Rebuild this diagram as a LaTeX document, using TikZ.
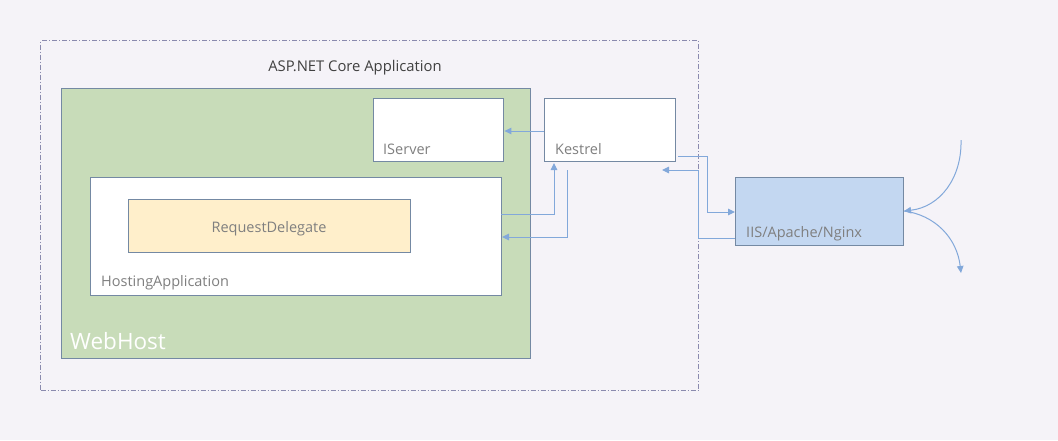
\documentclass[tikz,border=0pt]{standalone}
\usepackage{fontspec}
\setmainfont{Open Sans}
\usetikzlibrary{arrows.meta}
\definecolor{bgc}{HTML}{F5F3F8}
\definecolor{outerc}{HTML}{8A8AAE}
\definecolor{boxc}{HTML}{7489A3}
\definecolor{greenc}{HTML}{C8DCB9}
\definecolor{yellowc}{HTML}{FFEFCB}
\definecolor{bluec}{HTML}{C3D7F1}
\definecolor{linkc}{HTML}{82A8DA}
\definecolor{lblc}{HTML}{7F7F7F}
\definecolor{titlec}{HTML}{404040}
\tikzset{
  box/.style={draw=boxc, line width=1.4pt, inner sep=0pt, anchor=north west},
  lbl/.style={text=lblc, font=\fontsize{14.5}{16}\selectfont, anchor=base west, inner sep=0pt},
  link/.style={draw=linkc, line width=1pt, -{Triangle[length=7pt,width=6.5pt]}},
}
\begin{document}
\begin{tikzpicture}[x=1pt,y=-1pt]
\fill[bgc] (0,0) rectangle (1058,440);
\useasboundingbox (0,0) rectangle (1058,440);
% outer
\node[draw=outerc, line width=1pt, dash pattern=on 5pt off 2pt on 1pt off 2pt, minimum width=658pt, minimum height=350pt, inner sep=0pt, anchor=north west] (app) at (40,40) {};
\node[text=titlec, font=\fontsize{14.8}{16}\selectfont, inner sep=0pt, anchor=base] (apptitle) at (355,71) {ASP.NET Core Application};
% webhost
\node[box, fill=greenc, minimum width=469pt, minimum height=270pt] (webhost) at (61,88) {};
\node[text=white, font=\fontsize{22.5}{24}\selectfont, anchor=base west, inner sep=0pt] (whl) at (70,349) {WebHost};
% iserver
\node[box, fill=white, minimum width=130pt, minimum height=63pt] (iserver) at (373,98) {};
\node[lbl] (isl) at (383,154) {IServer};
% hosting app
\node[box, fill=white, minimum width=411pt, minimum height=118pt] (hosting) at (90,177) {};
\node[lbl] (hal) at (101,286) {HostingApplication};
% request delegate
\node[box, fill=yellowc, minimum width=282pt, minimum height=53pt] (rd) at (128,199) {};
\node[text=lblc, font=\fontsize{14.5}{16}\selectfont, inner sep=0pt, anchor=base] (rdl) at (269,232) {RequestDelegate};
% kestrel
\node[box, fill=white, minimum width=131pt, minimum height=63pt] (kestrel) at (544,98) {};
\node[lbl] (kl) at (555,154) {Kestrel};
% iis
\node[box, fill=bluec, minimum width=168pt, minimum height=68pt] (iis) at (735,177) {};
\node[lbl] (iisl) at (746,237) {IIS/Apache/Nginx};
% coordinates
\coordinate (k1) at (678,156);
\coordinate (k2) at (662,170);
\coordinate (kb1) at (554,163);
\coordinate (kb2) at (567,170);
\coordinate (h1) at (501,214);
\coordinate (h2) at (502,237);
\coordinate (i1) at (735,212);
\coordinate (i2) at (735,238);
\coordinate (cin) at (961,140);
\coordinate (cout) at (961,273);
\coordinate (ir) at (904,211);
% connectors
\draw[link] (kestrel.west |- 0,131) -- (iserver.east |- 0,131);
\draw[link] (h1) -| (kb1);
\draw[link] (kb2) |- (h2);
\draw[link] (k1) -- (707,156) |- (i1);
\draw[link] (i2) -- (698,238) |- (k2);
\draw[link] (cin) .. controls (962,178) and (940,207) .. (ir);
\draw[link] (ir) .. controls (935,215) and (957,238) .. (cout);
\end{tikzpicture}
\end{document}
